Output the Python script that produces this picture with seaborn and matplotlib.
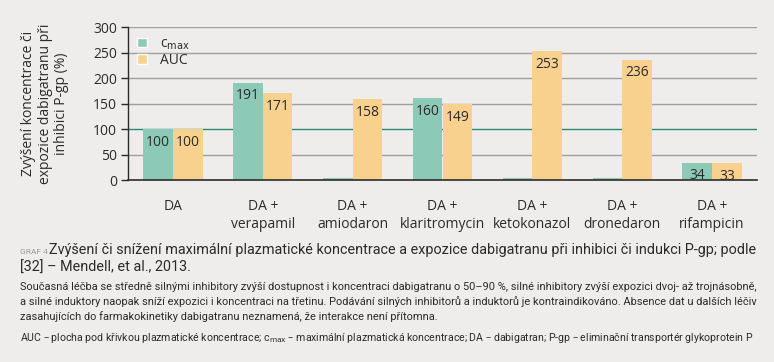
import numpy as np
import pandas as pd
import matplotlib
matplotlib.use('Agg')
import matplotlib.pyplot as plt
from matplotlib.patches import Patch
import seaborn as sns

# data
categories = ['DA', 'DA +\nverapamil', 'DA +\namiodaron', 'DA +\nklaritromycin',
              'DA +\nketokonazol', 'DA +\ndronedaron', 'DA +\nrifampicin']
cmax = [100, 191, 3, 160, 3, 3, 34]
auc = [100, 171, 158, 149, 253, 236, 33]
cmax_labels = ['100', '191', '', '160', '', '', '34']
auc_labels = ['100', '171', '158', '149', '253', '236', '33']

teal = '#8ccab7'
orange = '#f9d18f'
bg = '#eeedeb'
txt = '#2b2b2b'
cap_font = ['Roboto', 'DejaVu Sans']

df = pd.DataFrame({
    'cat': categories * 2,
    'val': cmax + auc,
    'serie': ['cmax'] * len(categories) + ['AUC'] * len(categories),
})

sns.set_style('white')
plt.rcParams['font.family'] = ['Open Sans', 'DejaVu Sans']

fig = plt.figure(figsize=(7.74, 3.62), dpi=100, facecolor=bg)
ax = fig.add_axes([128 / 774, 1 - 180 / 362, 629 / 774, 153 / 362])
ax.set_facecolor(bg)

sns.barplot(df, x='cat', y='val', hue='serie', palette=[teal, orange],
            width=0.66, saturation=1, legend=False, linewidth=0,
            edgecolor='none', ax=ax)

for cont, labs in zip(ax.containers, [cmax_labels, auc_labels]):
    ax.bar_label(cont, labels=labs, padding=-15, fontsize=10, color=txt)

ax.set_ylim(0, 300)
ax.set_xlim(-0.5, 6.5)
ax.set_yticks(range(0, 301, 50))
for y in range(50, 301, 50):
    ax.axhline(y, color='#a09f9d' if y != 100 else '#2a8a6e', lw=1, zorder=0)

for s in ['top', 'right']:
    ax.spines[s].set_visible(False)
ax.spines['left'].set_color(txt)
ax.spines['bottom'].set_color(txt)
ax.spines['left'].set_linewidth(1)
ax.spines['bottom'].set_linewidth(1.2)
ax.tick_params(axis='y', length=5, width=1, color=txt, labelsize=10, labelcolor=txt,
               left=True, pad=3)
ax.tick_params(axis='x', length=0, labelsize=10, labelcolor=txt, pad=14)
ax.set_xlabel('')
ax.set_ylabel('Zvýšení koncentrace či\nexpozice dabigatranu při\ninhibici P-gp (%)',
              fontsize=10, color=txt, linespacing=1.15, labelpad=17)

handles = [Patch(facecolor=teal), Patch(facecolor=orange)]
leg = ax.legend(handles, [r'c$_{\mathrm{max}}$', 'AUC'], loc='upper left',
                bbox_to_anchor=(-0.005, 1.02), frameon=False, fontsize=10,
                handlelength=0.7, handleheight=0.7, handletextpad=0.9,
                labelspacing=0.05, borderaxespad=0.5)
for t in leg.get_texts():
    t.set_color(txt)

# caption below
fig.text(20 / 774, 1 - 254 / 362, 'GRAF 4', fontsize=6.0, color='#9a9a9a', va='baseline',
         family=cap_font)
fig.text(49 / 774, 1 - 254 / 362,
         'Zvýšení či snížení maximální plazmatické koncentrace a expozice dabigatranu při inhibici či indukci P-gp; podle',
         fontsize=10.4, color=txt, va='baseline', family=cap_font)
fig.text(20 / 774, 1 - 272 / 362, '[32] – Mendell, et al., 2013.',
         fontsize=10.4, color=txt, va='baseline', family=cap_font)
para = ('Současná léčba se středně silnými inhibitory zvýší dostupnost i koncentraci dabigatranu o 50–90 %, silné inhibitory zvýší expozici dvoj- až trojnásobně,\n'
        'a silné induktory naopak sníží expozici i koncentraci na třetinu. Podávání silných inhibitorů a induktorů je kontraindikováno. Absence dat u dalších léčiv\n'
        'zasahujících do farmakokinetiky dabigatranu neznamená, že interakce není přítomna.')
fig.text(20 / 774, 1 - 282 / 362, para, fontsize=7.9, color=txt, va='top', linespacing=1.45,
         family=cap_font)
fig.text(20 / 774, 1 - 338 / 362,
         r'AUC – plocha pod křivkou plazmatické koncentrace; c$_{\mathrm{max}}$ – maximální plazmatická koncentrace; DA – dabigatran; P-gp – eliminační transportér glykoprotein P',
         fontsize=7.6, color=txt, va='center', family=cap_font)

fig.savefig('out.png', dpi=100, facecolor=bg)
